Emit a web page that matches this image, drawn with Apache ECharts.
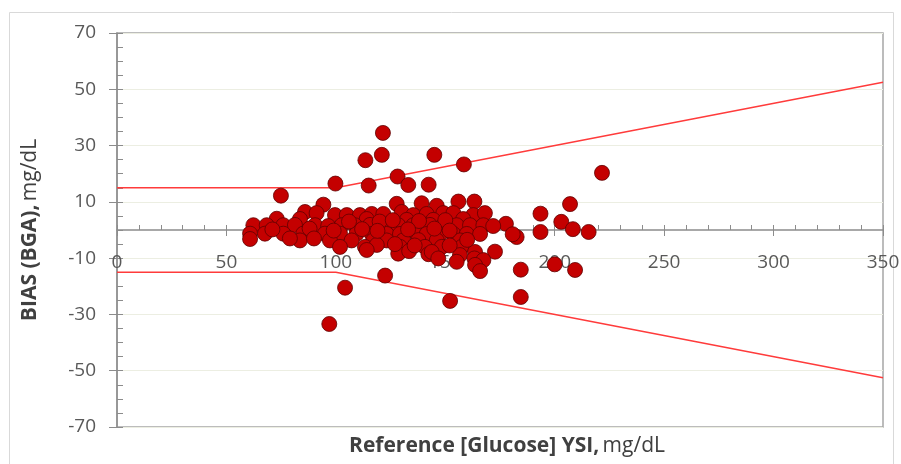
<!DOCTYPE html>
<html>
<head>
<meta charset="utf-8">
<script src="https://cdn.jsdelivr.net/npm/echarts@6/dist/echarts.min.js"></script>
<style>
  html, body { margin: 0; padding: 0; background: #ffffff; }
  #chart { width: 901px; height: 464px; }
</style>
</head>
<body>
<div id="chart"></div>
<script>
// Reference glucose (YSI, mg/dL) and bias of the BGA reading (mg/dL)
const refGlucose = [
  // upper outliers
  74.9, 99.8, 113.5, 121.0, 121.5, 115.0, 128.2, 133.1, 142.4, 145.0, 158.5, 221.6,
  // high-range group
  177.7, 193.5, 207.0, 203.0, 208.3, 193.5, 215.5, 182.6, 180.8,
  // lower outliers
  200.0, 209.3, 184.5, 184.5, 152.2, 122.5, 104.2, 97.0,
  // main cluster
  94.3, 127.8, 139.2, 146.1, 156.0, 163.3,
  85.9, 91.2, 99.6, 105.0, 111.0, 116.4, 121.7, 130.1, 135.4, 141.5, 149.1, 153.7, 162.8, 168.1,
  73.0, 83.6, 114.1, 132.4, 144.5, 158.2,
  62.3, 68.4, 76.0, 81.3, 90.5, 96.5, 102.7, 108.7, 115.6, 122.5, 128.5, 135.4, 143.0, 149.1, 155.2, 161.3, 167.4, 171.9,
  60.8, 67.6, 76.0, 85.1, 95.0, 101.9, 109.5, 116.4, 123.2, 129.3, 136.9, 141.5, 147.6, 153.7, 159.8, 165.9,
  60.8, 83.6, 97.3, 107.2, 117.1, 123.2, 130.8, 137.7, 146.1, 156.7,
  101.9, 113.3, 118.7, 129.3, 140.7, 148.4, 157.5,
  114.1, 128.5, 133.5, 142.3, 143.8, 156.7, 163.6, 172.7,
  146.8, 155.2, 163.3, 167.4, 163.6, 165.9,
  88.0, 112.0, 120.0, 126.0, 138.0, 150.0, 152.0, 106.0, 99.0, 71.0, 79.0, 90.0, 133.0, 145.0, 160.0, 119.0, 127.0, 136.0, 152.0
];
const bias = [
  12.2, 16.5, 24.8, 26.7, 34.5, 15.8, 19.0, 16.0, 16.1, 26.7, 23.3, 20.3,
  2.2, 5.8, 9.2, 2.9, 0.3, -0.7, -0.7, -2.5, -1.5,
  -12.2, -14.2, -14.1, -23.8, -25.2, -16.2, -20.5, -33.4,
  9.0, 9.3, 9.5, 8.6, 10.1, 10.1,
  6.4, 6.0, 5.3, 5.3, 5.3, 5.7, 5.7, 6.4, 5.3, 5.7, 6.0, 6.0, 5.3, 6.0,
  4.0, 3.9, 3.9, 3.6, 3.6, 3.9,
  1.7, 1.7, 1.7, 1.8, 1.7, 1.4, 1.7, 1.7, 1.8, 1.7, 1.7, 1.7, 1.8, 1.7, 1.7, 1.7, 1.7, 1.4,
  -1.3, -1.3, -1.3, -1.3, -1.3, -1.3, -1.3, -1.4, -1.4, -1.4, -1.3, -1.4, -1.4, -1.4, -1.4, -1.4,
  -3.2, -3.7, -3.7, -3.7, -3.7, -3.7, -3.7, -3.6, -3.7, -3.7,
  -6.0, -6.0, -5.3, -6.0, -6.0, -6.0, -6.0,
  -7.1, -8.4, -7.5, -8.6, -7.8, -8.9, -7.8, -7.7,
  -10.1, -11.3, -10.1, -10.7, -12.4, -14.6,
  0.5, 0.3, 3.0, 3.5, 3.2, 3.5, -0.2, 3.0, -0.2, 0.2, -3.0, -3.0, 0.2, 0.5, -3.5, -0.3, -5.0, -5.5, -5.5
];

// Accuracy limits: ±15 mg/dL below 100 mg/dL, ±15 % above
const limitX = [0, 100, 350];
const upperLimit = [15, 15, 52.5];
const lowerLimit = [-15, -15, -52.5];

const xTicks = { min: 0, max: 350, step: 50, minorStep: 10 };
const yTicks = { min: -70, max: 70, step: 20, minorStep: 5 };

const FONT = 'Open Sans';
const AXIS_GREY = '#8c8c8c';

// plot area geometry
const GRID = { left: 117, top: 33, right: 18, bottom: 37 };
const plotHeight = 464 - GRID.top - GRID.bottom;
// the horizontal axis sits on bias = 0 (midway between -70 and 70)
const zeroOffset = -plotHeight * (0 - yTicks.min) / (yTicks.max - yTicks.min);

const points = refGlucose.map((x, i) => [x, bias[i]]);
const upperLine = limitX.map((x, i) => [x, upperLimit[i]]);
const lowerLine = limitX.map((x, i) => [x, lowerLimit[i]]);

const chart = echarts.init(document.getElementById('chart'), null, { renderer: 'canvas' });

const titleRich = {
  b: { fontFamily: FONT, fontSize: 21, fontWeight: 'bold', color: '#404040' },
  n: { fontFamily: FONT, fontSize: 21, color: '#404040' }
};

chart.setOption({
  animation: false,
  backgroundColor: '#ffffff',
  graphic: [{
    type: 'rect',
    shape: { x: 9.5, y: 12.5, width: 884, height: 470 },
    style: { fill: 'none', stroke: '#d9d9d9', lineWidth: 1 },
    z: -10
  }],
  grid: {
    left: GRID.left, top: GRID.top, right: GRID.right, bottom: GRID.bottom,
    show: true, borderColor: '#a6a6a6', borderWidth: 1.5,
    containLabel: false,
    outerBoundsMode: 'none'
  },
  xAxis: [{
    type: 'value',
    position: 'bottom',
    offset: zeroOffset,
    min: xTicks.min, max: xTicks.max, interval: xTicks.step,
    name: '{b|Reference [Glucose] YSI,} {n|mg/dL}',
    nameLocation: 'middle',
    nameGap: 206,
    nameTextStyle: { rich: titleRich, padding: [0, 0, 0, 14] },
    axisLine: { show: true, onZero: false, lineStyle: { color: AXIS_GREY, width: 1.5 } },
    axisTick: { show: true, inside: false, length: 6, lineStyle: { color: AXIS_GREY, width: 1 } },
    axisLabel: { margin: 23, fontFamily: FONT, fontSize: 19, color: '#595959' },
    splitLine: { show: false }
  }, {
    // short inward ticks every 10 mg/dL
    type: 'value',
    position: 'bottom',
    offset: zeroOffset,
    min: xTicks.min, max: xTicks.max, interval: xTicks.minorStep,
    axisLine: { show: false, onZero: false },
    axisTick: { show: true, inside: true, length: 5, lineStyle: { color: AXIS_GREY, width: 1 } },
    axisLabel: { show: false },
    splitLine: { show: false }
  }],
  yAxis: [{
    type: 'value',
    position: 'left',
    min: yTicks.min, max: yTicks.max, interval: yTicks.step,
    name: '{b|BIAS (BGA),} {n|mg/dL}',
    nameLocation: 'middle',
    nameGap: 76,
    nameRotate: 90,
    nameTextStyle: { rich: titleRich },
    axisLine: { show: true, onZero: false, lineStyle: { color: AXIS_GREY, width: 1.5 } },
    axisTick: { show: true, inside: false, length: 8, lineStyle: { color: AXIS_GREY, width: 1 } },
    axisLabel: { margin: 21, fontFamily: FONT, fontSize: 19, color: '#595959' },
    splitLine: { show: true, lineStyle: { color: '#eceee2', width: 1 } }
  }, {
    // short inward ticks every 5 mg/dL
    type: 'value',
    position: 'left',
    min: yTicks.min, max: yTicks.max, interval: yTicks.minorStep,
    axisLine: { show: false, onZero: false },
    axisTick: { show: true, inside: true, length: 6, lineStyle: { color: AXIS_GREY, width: 1 } },
    axisLabel: { show: false },
    splitLine: { show: false }
  }],
  series: [{
    type: 'line',
    data: upperLine,
    symbol: 'none',
    silent: true,
    lineStyle: { color: '#ff3b3b', width: 1.5 },
    z: 2
  }, {
    type: 'line',
    data: lowerLine,
    symbol: 'none',
    silent: true,
    lineStyle: { color: '#ff3b3b', width: 1.5 },
    z: 2
  }, {
    type: 'scatter',
    data: points,
    symbol: 'circle',
    symbolSize: 15,
    itemStyle: { color: '#c40000', borderColor: '#5e0000', borderWidth: 0.8, opacity: 1 },
    z: 3
  }]
});
</script>
</body>
</html>
